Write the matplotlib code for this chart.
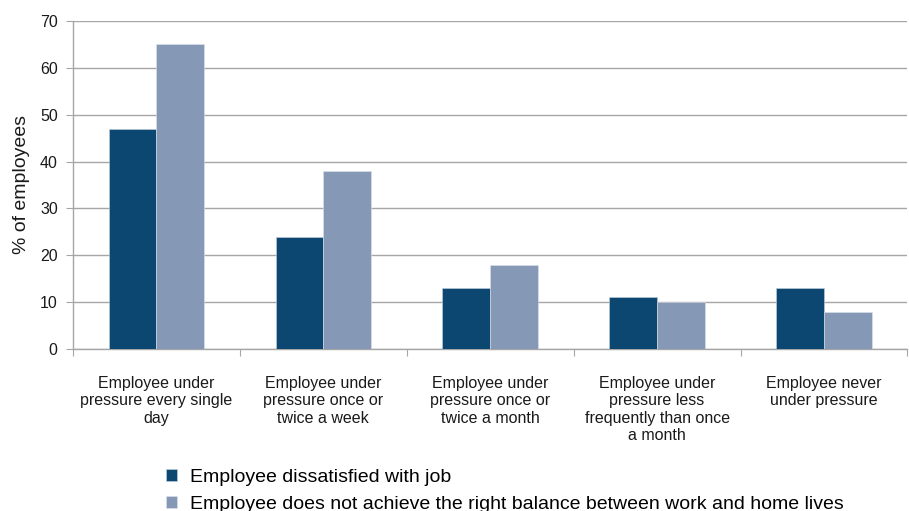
import numpy as np
import matplotlib.pyplot as plt

plt.rcParams['font.family'] = ['Liberation Sans', 'DejaVu Sans']

categories = [
    "Employee under\npressure every single\nday",
    "Employee under\npressure once or\ntwice a week",
    "Employee under\npressure once or\ntwice a month",
    "Employee under\npressure less\nfrequently than once\na month",
    "Employee never\nunder pressure",
]
dissatisfied = [47, 24, 13, 11, 13]
no_balance = [65, 38, 18, 10, 8]
series_names = [
    "Employee dissatisfied with job",
    "Employee does not achieve the right balance between work and home lives",
]
dark = "#0b4770"
light = "#8599b6"
grid_col = "#a6a6a6"
text_col = "#1a1a1a"

fig = plt.figure(figsize=(9.09, 5.11), dpi=100)
ax = fig.add_axes([0.0803, 0.317, 0.918, 0.642])

x = np.arange(len(categories))
w = 0.286
b1 = ax.bar(x - w / 2, dissatisfied, w, color=dark, edgecolor="#c8d2de", linewidth=0.4, zorder=3)
b2 = ax.bar(x + w / 2, no_balance, w, color=light, edgecolor="#dde3ec", linewidth=0.4, zorder=3)

ax.set_xlim(-0.5, len(categories) - 0.5)
ax.set_ylim(0, 70)
ax.set_yticks(range(0, 71, 10))
ax.yaxis.grid(True, color=grid_col, linewidth=1.0, zorder=0)
ax.tick_params(axis="y", direction="out", length=5, color=grid_col, labelsize=11.5,
               pad=6, labelcolor=text_col)

# ticks sit on the category boundaries
ax.set_xticks(np.arange(-0.5, len(categories) + 0.5, 1))
ax.set_xticklabels([])
ax.tick_params(axis="x", direction="out", length=5, color=grid_col)
for i, lab in enumerate(categories):
    ax.text(i, -5.7, lab, ha="center", va="top", fontsize=11.5, color=text_col,
            linespacing=1.2)

for s in ["top", "right"]:
    ax.spines[s].set_visible(False)
for s in ["left", "bottom"]:
    ax.spines[s].set_color(grid_col)
    ax.spines[s].set_linewidth(1.0)

ax.set_ylabel("% of employees", fontsize=14, color=text_col, labelpad=7)

fig.legend([b1, b2], series_names, loc="upper left", bbox_to_anchor=(0.183, 0.082),
           frameon=False, fontsize=14, handlelength=0.55, handleheight=0.55,
           handletextpad=0.65, labelspacing=0.5, borderpad=0, borderaxespad=0)

fig.savefig("out.png", dpi=100)
